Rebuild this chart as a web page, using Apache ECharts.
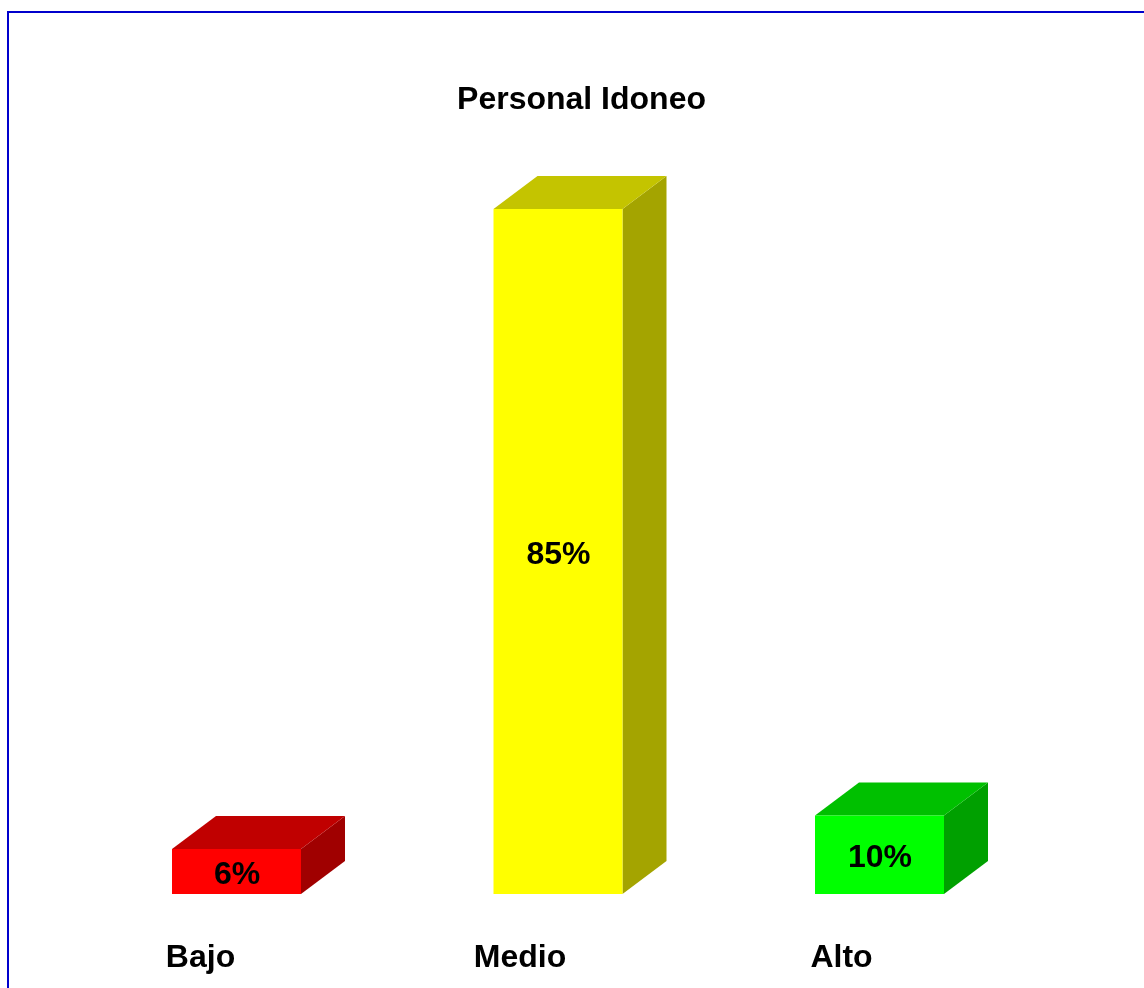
<!DOCTYPE html>
<html>
<head>
<meta charset="utf-8">
<title>Personal Idoneo</title>
<script src="https://cdn.jsdelivr.net/npm/echarts@6/dist/echarts.min.js"></script>
<style>
html,body{margin:0;padding:0;background:#fff;overflow:hidden}
#frame{position:absolute;left:7px;top:11px;width:1200px;height:1100px;border:2px solid #0000cc;box-sizing:border-box}
#main{position:absolute;left:0;top:0;width:1144px;height:988px}
</style>
</head>
<body>
<div id="frame"></div>
<div id="main"></div>
<script>
var categories = ['Bajo', 'Medio', 'Alto'];
var values = [5.56, 84.72, 9.72];
var faceColors = ['#ff0000', '#ffff00', '#00ff00'];
var topColors = ['#c00000', '#c4c400', '#00c000'];
var sideColors = ['#a00000', '#a4a400', '#00a000'];

var barWidth = 129, depthX = 44, depthY = 33;

function renderBox(params, api){
    var i = api.value(0);
    var top = api.coord([i, api.value(1)]);
    var base = api.coord([i, 0]);
    var x0 = top[0] - barWidth / 2, x1 = x0 + barWidth;
    var y0 = top[1], y1 = base[1];
    return {
        type: 'group',
        children: [
            {   // cara lateral
                type: 'polygon',
                shape: {points: [[x1, y0], [x1 + depthX, y0 - depthY], [x1 + depthX, y1 - depthY], [x1, y1]]},
                style: {fill: sideColors[i]}
            },
            {   // cara superior
                type: 'polygon',
                shape: {points: [[x0, y0], [x0 + depthX, y0 - depthY], [x1 + depthX, y0 - depthY], [x1, y0]]},
                style: {fill: topColors[i]}
            },
            {
                type: 'rect',
                shape: {x: x0, y: y0, width: barWidth, height: y1 - y0},
                style: {fill: faceColors[i]}
            },
            {
                type: 'text',
                x: top[0] + 0.5,
                y: (y0 + y1) / 2 + 3.5,
                style: {
                    text: Math.round(api.value(1)) + '%',
                    fill: '#000',
                    align: 'center',
                    verticalAlign: 'middle',
                    font: 'bold 32px "Liberation Sans", Arial, sans-serif'
                }
            }
        ]
    };
}

var chart = echarts.init(document.getElementById('main'));
chart.setOption({
    animation: false,
    title: {
        text: 'Personal Idoneo',
        left: 576.5,
        top: 79,
        textAlign: 'center',
        textStyle: {fontFamily: '"Liberation Sans", Arial, sans-serif', fontWeight: 'bold', fontSize: 32, color: '#000'}
    },
    grid: {left: 75.75, width: 964.5, top: 85.5, height: 808.5},
    xAxis: {
        type: 'category',
        data: categories.map(function(c, i){
            // Bajo queda un poco mas a la derecha que los otros
            return i == 0 ? {value: c, textStyle: {padding: [0, 72, 0, 0]}} : c;
        }),
        axisLine: {show: false},
        axisTick: {show: false},
        axisLabel: {
            margin: 48,
            padding: [0, 76, 0, 0],
            color: '#000',
            fontFamily: '"Liberation Sans", Arial, sans-serif',
            fontWeight: 'bold',
            fontSize: 32
        }
    },
    yAxis: {type: 'value', min: 0, max: 100, show: false},
    series: [{
        type: 'custom',
        renderItem: renderBox,
        clip: false,
        encode: {x: 0, y: 1},
        data: values.map(function(v, i){ return [i, v]; })
    }]
});
</script>
</body>
</html>
